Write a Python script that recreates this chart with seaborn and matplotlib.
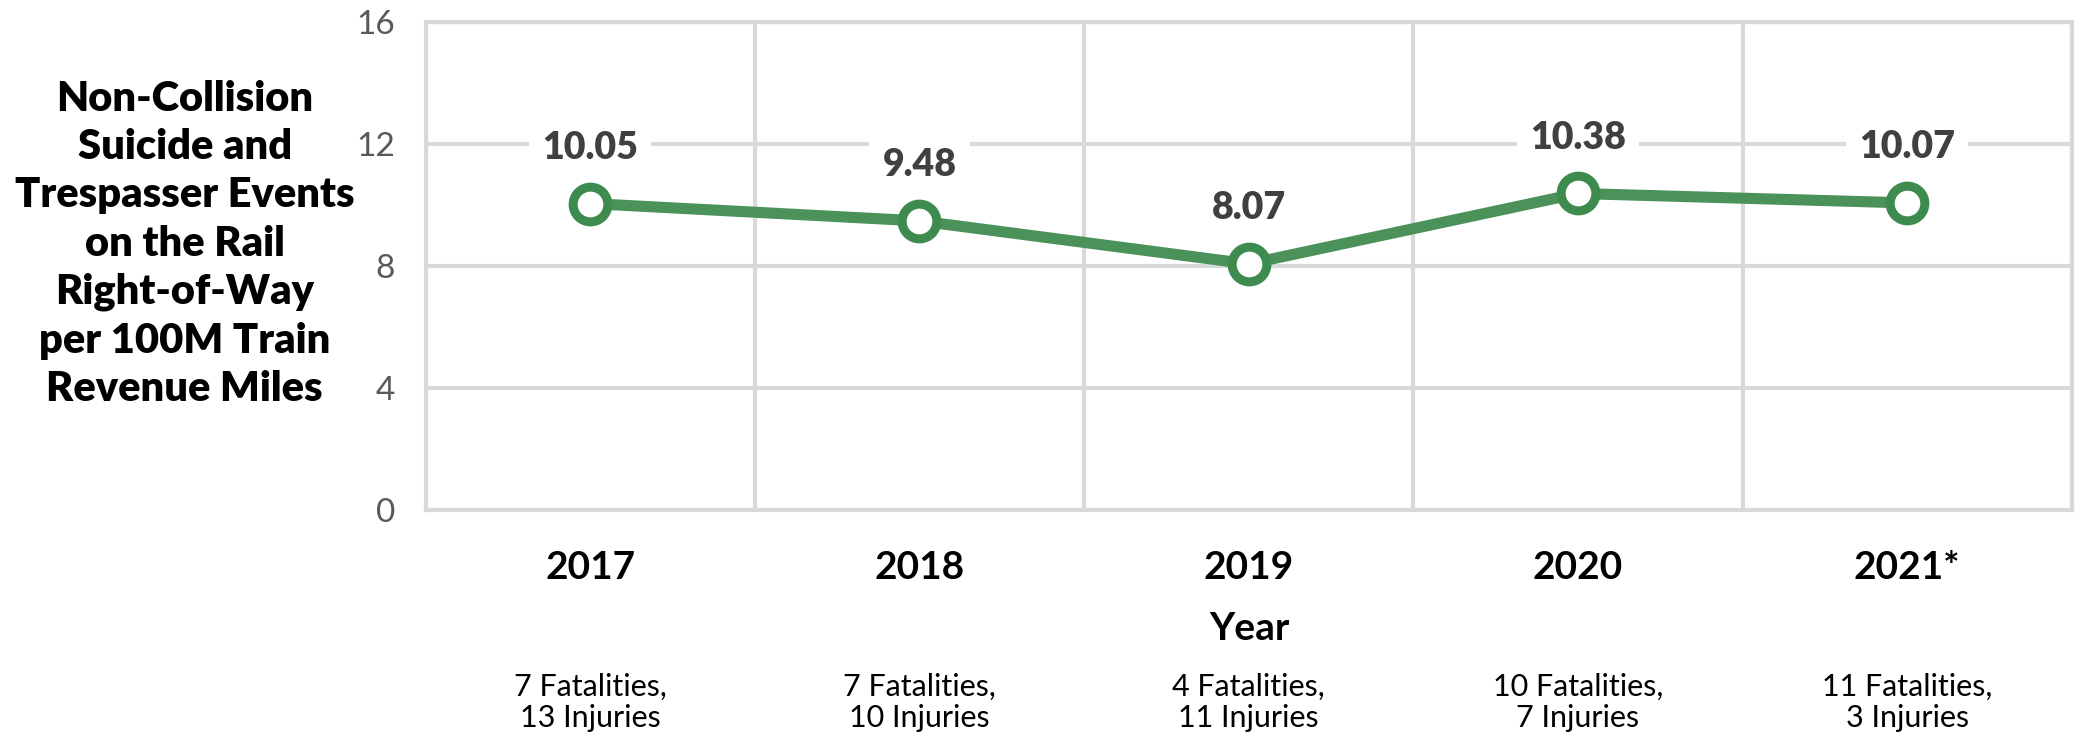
# Non-collision suicide and trespasser events per 100M train revenue miles
import pandas as pd
import matplotlib
matplotlib.use("Agg")
import matplotlib.pyplot as plt
import matplotlib.transforms as mtransforms
import seaborn as sns


# chart data
years = ["2017", "2018", "2019", "2020", "2021*"]
rates = [10.05, 9.48, 8.07, 10.38, 10.07]
casualties = [
    "7 Fatalities,\n13 Injuries",
    "7 Fatalities,\n10 Injuries",
    "4 Fatalities,\n11 Injuries",
    "10 Fatalities,\n7 Injuries",
    "11 Fatalities,\n3 Injuries",
]
y_ticks = [0, 4, 8, 12, 16]

df = pd.DataFrame({"Year": years, "Rate": rates})


# style
sns.set_theme(style="white")
plt.rcParams["font.family"] = ["Lato", "DejaVu Sans"]

grid_color = "#d9d9d9"
line_color = "#4b915a"
edge_color = "#3e8b4f"


fig = plt.figure(figsize=(20.76, 7.37), dpi=100)
ax = fig.add_axes([0.205, 0.308, 0.793, 0.662])

sns.lineplot(
    data=df,
    x="Year",
    y="Rate",
    sort=False,
    color=line_color,
    linewidth=8,
    marker="o",
    markersize=25,
    markerfacecolor="white",
    markeredgecolor=edge_color,
    markeredgewidth=6.5,
    ax=ax,
    zorder=4
)


# axes limits and grid
ax.set_xlim(-0.5, len(years) - 0.5)
ax.set_ylim(0, 16)
ax.set_yticks(y_ticks)
ax.set_xticks(range(len(years)))
ax.set_xticks([i - 0.5 for i in range(len(years) + 1)], minor=True)

ax.grid(axis="y", which="major", color=grid_color, linewidth=3)
ax.grid(axis="x", which="minor", color=grid_color, linewidth=3)
ax.grid(axis="x", which="major", visible=False)

for side in ["top", "bottom", "left", "right"]:
    ax.spines[side].set_visible(True)
    ax.spines[side].set_color(grid_color)
    ax.spines[side].set_linewidth(3)

ax.tick_params(axis="both", which="both", length=0)
ax.tick_params(axis="y", pad=22, labelsize=24, labelcolor="#595959")
ax.tick_params(axis="x", pad=29, labelsize=28)
ax.set_xticklabels(years, fontweight="bold", color="black")

ax.set_xlabel("")
ax.set_ylabel("")


# data labels
for i, v in enumerate(rates):
    ax.annotate(
        f"{v:.2f}",
        xy=(i, v),
        xytext=(0, 40),
        textcoords="offset points",
        ha="center",
        va="center",
        fontsize=27,
        fontweight="heavy",
        color="#404040",
        bbox=dict(boxstyle="square,pad=0.35", facecolor="white", edgecolor="none"),
        zorder=5
    )


# y axis title
fig.text(
    0.089, 0.669,
    "Non-Collision\nSuicide and\nTrespasser Events\non the Rail\nRight-of-Way\nper 100M Train\nRevenue Miles",
    ha="center",
    va="center",
    fontsize=30,
    fontweight="heavy",
    color="black",
    linespacing=1.33
)


# x axis title
fig.text(0.602, 0.147, "Year", ha="center", va="center",
         fontsize=28, fontweight="bold", color="black")


# casualty notes under each year
trans = mtransforms.blended_transform_factory(ax.transData, fig.transFigure)
for i, note in enumerate(casualties):
    ax.text(i, 0.047, note, transform=trans, ha="center", va="center",
            fontsize=22, color="black", linespacing=1.15)


plt.savefig("out.png", dpi=100)
